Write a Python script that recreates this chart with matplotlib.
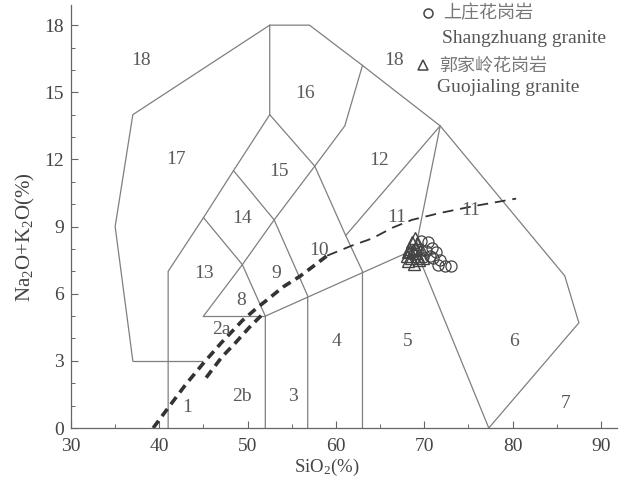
import matplotlib
matplotlib.use('Agg')
import matplotlib.pyplot as plt
from matplotlib.ticker import MultipleLocator

plt.rcParams['font.family'] = ['Liberation Serif', 'Noto Sans CJK SC', 'DejaVu Sans']
plt.rcParams['mathtext.fontset'] = 'custom'
plt.rcParams['mathtext.rm'] = 'Liberation Serif'
plt.rcParams['mathtext.it'] = 'Liberation Serif:italic'

# ---- field boundary polylines (SiO2 %, Na2O+K2O %) ----
boundaries = [
    [(41, 0), (41, 7), (45, 9.4), (48.4, 11.5), (52.5, 14), (52.5, 18)],
    [(37, 3), (35, 9), (37, 14), (52.5, 18), (57, 18), (63, 16.2), (71.8, 13.5),
     (85.9, 6.8), (87.5, 4.7), (77.3, 0)],
    [(37, 3), (44.8, 3)],
    [(45, 9.4), (49.4, 7.3), (52, 5), (52, 0)],
    [(45, 5), (52, 5)],
    [(45, 5), (49.4, 7.3), (53, 9.3), (57.6, 11.7), (61, 13.5), (63, 16.2)],
    [(48.4, 11.5), (53, 9.3), (56.8, 5.9), (56.8, 0)],
    [(52.5, 14), (57.6, 11.7), (61.1, 8.6), (63, 7), (63, 0)],
    [(52, 5), (69, 8), (71.8, 13.5)],
    [(61.1, 8.6), (71.8, 13.5)],
    [(69, 8), (77.3, 0)],
]

# Alkaline / subalkaline dividing lines
ib_thick_x = [39.3, 41, 43, 45, 47, 49.4, 51, 52.6, 54, 56, 57.5, 59]
ib_thick_y = [0, 0.9, 1.95, 2.9, 3.8, 4.8, 5.35, 5.85, 6.3, 6.8, 7.25, 7.7]
ib_thin_x = [59, 61.8, 64.1, 66.4, 68.6, 71.7, 75.4, 80.4]
ib_thin_y = [7.7, 8.15, 8.47, 8.95, 9.3, 9.6, 9.9, 10.25]
lower_x = [45.3, 47.1, 48.6, 50.2, 51.6, 52.1]
lower_y = [2.25, 3.18, 3.8, 4.5, 5.05, 5.15]

# Field labels
field_names = ['18', '17', '16', '15', '14', '13', '12', '11', '11', '10', '9', '8',
               '2a', '2b', '1', '3', '4', '5', '6', '7', '18']
field_x = [37.9, 41.9, 56.5, 53.5, 49.4, 45.1, 64.9, 66.9, 75.3, 58.1, 53.2, 49.3,
           47.0, 49.4, 43.2, 55.1, 60.1, 68.1, 80.2, 86.0, 66.6]
field_y = [16.4, 12.0, 14.95, 11.45, 9.36, 6.9, 11.95, 9.4, 9.73, 7.95, 6.9, 5.7,
           4.4, 1.4, 0.9, 1.4, 3.85, 3.85, 3.85, 1.1, 16.4]

# Samples
shz_sio2 = [69.6, 70.4, 70.9, 70.2, 71.3, 71.0, 71.8, 71.6, 72.3, 73.0, 69.9, 70.6]
shz_alk = [8.35, 8.3, 8.05, 7.9, 7.85, 7.6, 7.5, 7.3, 7.25, 7.25, 7.65, 7.7]
gjl_sio2 = [68.0, 68.3, 68.6, 68.9, 69.2, 68.5, 69.0, 69.4, 68.2, 69.6, 68.8, 69.8,
            68.4, 69.1, 68.7, 68.1, 69.3]
gjl_alk = [7.7, 8.0, 8.3, 8.5, 8.2, 7.6, 7.8, 7.5, 7.45, 8.0, 7.35, 7.6, 7.9, 8.05,
           7.95, 7.85, 7.7]

xticks = [30, 40, 50, 60, 70, 80, 90]
yticks = [0, 3, 6, 9, 12, 15, 18]

line_col = '#7f7f7f'
lab_col = '#5a5a5a'

fig = plt.figure(figsize=(6.26, 4.82), dpi=100)
ax = fig.add_axes([0.1134, 0.112, 0.872, 0.8776])

for seg in boundaries:
    xs = [p[0] for p in seg]
    ys = [p[1] for p in seg]
    ax.plot(xs, ys, color=line_col, lw=0.9, solid_joinstyle='miter')

ax.plot(ib_thick_x, ib_thick_y, color='#333333', lw=2.6, linestyle=(0, (2.5, 1.6)))
ax.plot(lower_x, lower_y, color='#333333', lw=2.6, linestyle=(0, (2.5, 1.6)))
ax.plot(ib_thin_x, ib_thin_y, color='#333333', lw=1.3, linestyle=(0, (6, 3.8)))

for n, x, y in zip(field_names, field_x, field_y):
    ax.text(x, y, n, ha='center', va='center', fontsize=14, color=lab_col)

ax.plot(gjl_sio2, gjl_alk, linestyle='none', marker='^', ms=8, mfc='none',
        mec='#444444', mew=1.0)
ax.plot(shz_sio2, shz_alk, linestyle='none', marker='o', ms=8, mfc='none',
        mec='#444444', mew=0.9)

# legend (manual)
ax.plot([0.654], [0.981], transform=ax.transAxes, marker='o', ms=6.5, mfc='none',
        mec='#444444', mew=1.1, clip_on=False)
ax.plot([0.645], [0.858], transform=ax.transAxes, marker='^', ms=7.5, mfc='none',
        mec='#444444', mew=1.1, clip_on=False)
ax.text(0.681, 0.981, '上庄花岗岩', transform=ax.transAxes, fontsize=13,
        family=['Noto Sans CJK SC', 'DejaVu Sans'], color='#777777', va='center', ha='left')
ax.text(0.679, 0.922, 'Shangzhuang granite', transform=ax.transAxes, fontsize=14,
        color='#555555', va='center', ha='left')
ax.text(0.674, 0.858, '郭家岭花岗岩', transform=ax.transAxes, fontsize=13,
        family=['Noto Sans CJK SC', 'DejaVu Sans'], color='#777777', va='center', ha='left')
ax.text(0.670, 0.806, 'Guojialing granite', transform=ax.transAxes, fontsize=14,
        color='#555555', va='center', ha='left')

ax.set_xlim(30, 91.8)
ax.set_ylim(0, 18.9)
ax.set_xticks(xticks)
ax.set_yticks(yticks)
ax.xaxis.set_minor_locator(MultipleLocator(5))
ax.yaxis.set_minor_locator(MultipleLocator(1))
ax.tick_params(which='major', direction='in', length=5, width=0.8, color='#666666',
               labelcolor='#444444', labelsize=14)
ax.tick_params(which='minor', direction='in', length=3, width=0.7, color='#666666')
ax.tick_params(axis='x', pad=7)
ax.tick_params(axis='y', pad=5)
for s in ['top', 'right']:
    ax.spines[s].set_visible(False)
for s in ['left', 'bottom']:
    ax.spines[s].set_color('#666666')
    ax.spines[s].set_linewidth(0.9)

fig.text(327 / 626, 1 - 467 / 482, 'SiO$_2$(%)', ha='center', va='center',
         fontsize=13.5, color='#444444')
fig.text(25 / 626, 1 - 237 / 482, 'Na$_2$O+K$_2$O(%)', ha='center', va='center',
         fontsize=15, color='#444444', rotation=90)

fig.savefig('out.png', dpi=100, facecolor='white')
